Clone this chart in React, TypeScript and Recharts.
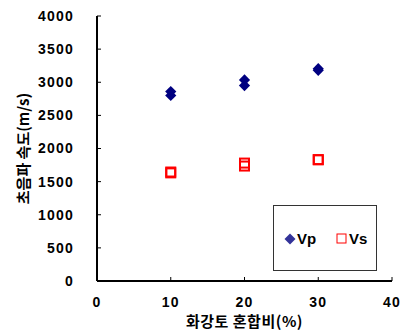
import React from 'react';
import { ScatterChart, Scatter, XAxis, YAxis, Legend, Label } from 'recharts';

// Mixing ratio of weathered granite soil (%) for each specimen
const mixRatios = [10, 10, 20, 20, 30, 30];
// P-wave velocity (m/s)
const vpValues = [2860, 2800, 3035, 2950, 3205, 3180];
// S-wave velocity (m/s)
const vsValues = [1645, 1632, 1780, 1735, 1832, 1830];

const xTicks = [0, 10, 20, 30, 40];
const yTicks = [0, 500, 1000, 1500, 2000, 2500, 3000, 3500, 4000];

const vpData = mixRatios.map((ratio, i) => ({ ratio, speed: vpValues[i] }));
const vsData = mixRatios.map((ratio, i) => ({ ratio, speed: vsValues[i] }));

const VP_COLOR = '#000080';
const VS_COLOR = '#ff0000';
const NUM_FONT = "'Liberation Sans', Arial, 'Noto Sans CJK KR', sans-serif";
const KR_FONT = "'Noto Sans CJK KR', 'Liberation Sans', sans-serif";

const Diamond = (props: any) => {
  const { cx, cy } = props;
  const r = 5.6;
  return (
    <polygon
      points={`${cx},${cy - r} ${cx + r},${cy} ${cx},${cy + r} ${cx - r},${cy}`}
      fill={VP_COLOR}
    />
  );
};

const OpenSquare = (props: any) => {
  const { cx, cy } = props;
  return (
    <rect x={cx - 4.5} y={cy - 4.5} width={9} height={9} fill="none" stroke={VS_COLOR} strokeWidth={2} />
  );
};

const LegendBox = () => (
  <div
    style={{
      position: 'relative',
      width: 104,
      height: 66,
      border: '1px solid #333',
      boxSizing: 'border-box',
      background: '#fff',
      fontFamily: NUM_FONT,
      fontWeight: 'bold',
      fontSize: 15,
      color: '#000',
    }}
  >
    <svg width={12} height={12} style={{ position: 'absolute', left: 10, top: 27 }}>
      <polygon points="6,0.5 11.5,6 6,11.5 0.5,6" fill="#333399" />
    </svg>
    <span style={{ position: 'absolute', left: 23, top: 24, lineHeight: '18px' }}>Vp</span>
    <svg width={12} height={12} style={{ position: 'absolute', left: 62, top: 27 }}>
      <rect x={1} y={1} width={9} height={9} fill="none" stroke={VS_COLOR} strokeWidth={1} />
    </svg>
    <span style={{ position: 'absolute', left: 75, top: 24, lineHeight: '18px' }}>Vs</span>
  </div>
);

export default function App() {
  return (
    <div style={{ position: 'absolute', left: 0, top: 0, background: '#fff' }}>
      <ScatterChart width={404} height={331} margin={{ top: 16, right: 12, left: 0, bottom: 0 }}>
        <XAxis
          type="number"
          dataKey="ratio"
          domain={[0, 40]}
          ticks={xTicks}
          height={50}
          axisLine={{ stroke: '#000', strokeWidth: 2 }}
          tickLine={{ stroke: '#000', strokeWidth: 1 }}
          tickSize={-4}
          tickMargin={20}
          tick={{ fill: '#000', fontSize: 14, fontWeight: 'bold', fontFamily: NUM_FONT, letterSpacing: 1.2 }}
        >
          <Label
            value="화강토 혼합비(%)"
            position="insideBottom"
            offset={4}
            style={{ fill: '#000', fontSize: 15, fontWeight: 'bold', fontFamily: KR_FONT, letterSpacing: 0.5 }}
          />
        </XAxis>
        <XAxis
          xAxisId="top"
          orientation="top"
          type="number"
          domain={[0, 40]}
          height={0}
          tick={false}
          tickLine={false}
          axisLine={{ stroke: '#000', strokeWidth: 2 }}
        />
        <YAxis
          type="number"
          dataKey="speed"
          domain={[0, 4000]}
          ticks={yTicks}
          width={97}
          axisLine={{ stroke: '#000', strokeWidth: 2 }}
          tickLine={{ stroke: '#000', strokeWidth: 1 }}
          tickSize={-4}
          tickMargin={27}
          tick={{ fill: '#000', fontSize: 14, fontWeight: 'bold', fontFamily: NUM_FONT, letterSpacing: 1.2 }}
        >
          <Label
            value="초음파 속도(m/s)"
            angle={-90}
            position="insideLeft"
            offset={24}
            style={{ fill: '#000', fontSize: 15, fontWeight: 'bold', fontFamily: KR_FONT, textAnchor: 'middle' }}
          />
        </YAxis>
        <YAxis
          yAxisId="right"
          orientation="right"
          type="number"
          domain={[0, 4000]}
          width={0}
          tick={false}
          tickLine={false}
          axisLine={{ stroke: '#000', strokeWidth: 2 }}
        />
        <Legend
          layout="horizontal"
          verticalAlign="middle"
          align="center"
          content={() => <LegendBox />}
          wrapperStyle={{ position: 'absolute', left: 273, top: 205, width: 104, height: 66 }}
        />
        <Scatter name="Vp" data={vpData} shape={Diamond} isAnimationActive={false} />
        <Scatter name="Vs" data={vsData} shape={OpenSquare} isAnimationActive={false} />
      </ScatterChart>
    </div>
  );
}
